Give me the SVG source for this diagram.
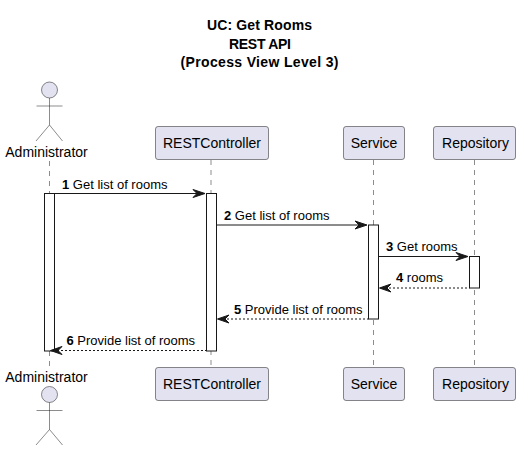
<svg xmlns="http://www.w3.org/2000/svg" width="520" height="450" viewBox="0 0 520 450">
<style>
text{font-family:"Liberation Sans",Arial,sans-serif;fill:#000}
.t{font-size:14px;font-weight:bold}
.p{font-size:14px;text-anchor:middle}
.m{font-size:13px}
.m tspan{font-weight:bold}
.box{fill:#E2E2F0;stroke:#181818;stroke-width:.5}
.act{fill:#E2E2F0;stroke:#181818;stroke-width:.5}
.ln{stroke:#181818;stroke-width:.5;fill:none}
.life{stroke:#181818;stroke-width:.5;stroke-dasharray:5 5;fill:none}
.bar{fill:#fff;stroke:#181818;stroke-width:1}
.msg{stroke:#181818;stroke-width:1;fill:none}
.ret{stroke:#181818;stroke-width:1;stroke-dasharray:2 2;fill:none}
.ah{fill:#181818;stroke:#181818;stroke-width:1}
</style>
<g id="title">
<text class="t" x="207" y="30" textLength="105" lengthAdjust="spacing">UC: Get Rooms</text>
<text class="t" x="229" y="49" textLength="62" lengthAdjust="spacing">REST API</text>
<text class="t" x="180.500" y="67" textLength="158" lengthAdjust="spacing">(Process View Level 3)</text>
</g>
<g id="connectors">
<path class="life" d="M49.5 161V367"/>
<path class="life" d="M211 160V367"/>
<path class="life" d="M373.5 160V367"/>
<path class="life" d="M474.5 160V367"/>
<rect class="bar" x="44.5" y="193.5" width="10" height="157.5"/>
<rect class="bar" x="206.5" y="193.5" width="10" height="157.5"/>
<rect class="bar" x="368.5" y="225" width="10" height="94"/>
<rect class="bar" x="469.5" y="256.5" width="10" height="31.5"/>
<path class="msg" d="M54.5 193.500H204"/><path class="ah" d="M193 189.500L205 193.500L193 197.500L197 193.500Z"/>
<path class="msg" d="M216.500 225H366"/><path class="ah" d="M355 221L367 225L355 229L359 225Z"/>
<path class="msg" d="M378.500 256.500H467"/><path class="ah" d="M456 252.500L468 256.500L456 260.500L460 256.500Z"/>
<path class="ret" d="M381 288H469.500"/><path class="ah" d="M391 284L379.500 288L391 292L387 288Z"/>
<path class="ret" d="M219 319H368.500"/><path class="ah" d="M229 315L217.500 319L229 323L225 319Z"/>
<path class="ret" d="M57 350.500H206.500"/><path class="ah" d="M62 346.500L50.500 350.500L62 354.500L58 350.500Z"/>
</g>
<g id="labels">
<text class="m" x="62" y="189"><tspan>1</tspan> Get list of rooms</text>
<text class="m" x="224" y="220"><tspan>2</tspan> Get list of rooms</text>
<text class="m" x="386" y="251"><tspan>3</tspan> Get rooms</text>
<text class="m" x="396" y="282"><tspan>4</tspan> rooms</text>
<text class="m" x="234" y="314"><tspan>5</tspan> Provide list of rooms</text>
<text class="m" x="66.500" y="345"><tspan>6</tspan> Provide list of rooms</text>
</g>
<g id="administrator-top">
<circle class="act" cx="49.5" cy="90" r="8"/>
<path class="ln" d="M49.5 98V125M36.5 106H62.5M36 141L49.5 125L62.5 141"/>
<text class="p" x="46.500" y="157">Administrator</text>
</g>
<g id="restcontroller-top"><rect class="box" x="155.5" y="126.5" width="113" height="33" rx="2.5"/><text class="p" x="212" y="148">RESTController</text></g>
<g id="service-top"><rect class="box" x="343.5" y="126.5" width="61" height="33" rx="2.5"/><text class="p" x="374" y="148">Service</text></g>
<g id="repository-top"><rect class="box" x="433.5" y="126.5" width="82" height="33" rx="2.5"/><text class="p" x="475.500" y="148">Repository</text></g>
<g id="administrator-bottom">
<text class="p" x="46.500" y="382">Administrator</text>
<circle class="act" cx="49.5" cy="394.5" r="8"/>
<path class="ln" d="M49.5 402.5V429.5M36.5 410.5H62.5M36 445L49.5 429.5L62.5 445"/>
</g>
<g id="restcontroller-bottom"><rect class="box" x="155.5" y="367.5" width="113" height="33" rx="2.5"/><text class="p" x="212" y="389">RESTController</text></g>
<g id="service-bottom"><rect class="box" x="343.5" y="367.5" width="61" height="33" rx="2.5"/><text class="p" x="374" y="389">Service</text></g>
<g id="repository-bottom"><rect class="box" x="433.5" y="367.5" width="82" height="33" rx="2.5"/><text class="p" x="475.500" y="389">Repository</text></g>
</svg>
